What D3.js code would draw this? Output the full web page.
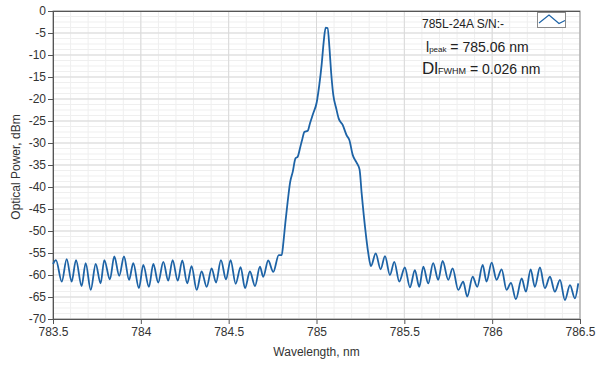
<!DOCTYPE html>
<html>
<head>
<meta charset="utf-8">
<script src="https://cdn.jsdelivr.net/npm/d3@7"></script>
<style>
  body { margin: 0; background: #fff; }
  svg { font-family: "Liberation Sans", "DejaVu Sans", sans-serif; }
  .grid-minor line { stroke: #efefef; }
  .grid-major line { stroke: #d9d9d9; }
  .axis path, .axis line { stroke: #555; }
  .axis text { fill: #333; font-size: 12px; }
  .spectrum { fill: none; stroke: #1d63a6; stroke-width: 1.8; }
</style>
</head>
<body>
<div id="chart"></div>
<script>
// spectrum: local maxima / minima of the ripple plus the laser line
var wavelength = [
  783.500, 783.517, 783.550, 783.578, 783.606, 783.631, 783.663, 783.686, 783.715, 783.743,
  783.771, 783.792, 783.824, 783.849, 783.877, 783.904, 783.933, 783.957, 783.989, 784.014,
  784.046, 784.071, 784.099, 784.128, 784.156, 784.181, 784.210, 784.236, 784.264, 784.289,
  784.318, 784.346, 784.375, 784.403, 784.428, 784.456, 784.485, 784.511, 784.540, 784.568,
  784.593, 784.621, 784.650, 784.678, 784.697, 784.725, 784.754, 784.785, 784.802, 784.812,
  784.823, 784.836, 784.850, 784.865, 784.880, 784.893, 784.906, 784.918, 784.931, 784.950,
  784.963, 784.982, 785.001, 785.016, 785.029, 785.041, 785.052, 785.063, 785.074, 785.083,
  785.096, 785.112, 785.126, 785.149, 785.172, 785.187, 785.206, 785.226, 785.245, 785.257,
  785.276, 785.295, 785.310, 785.337, 785.365, 785.390, 785.418, 785.443, 785.471, 785.503,
  785.532, 785.560, 785.585, 785.608, 785.636, 785.664, 785.693, 785.718, 785.750, 785.775,
  785.807, 785.835, 785.858, 785.889, 785.915, 785.946, 785.968, 785.997, 786.025, 786.054,
  786.082, 786.107, 786.135, 786.168, 786.192, 786.219, 786.243, 786.272, 786.300, 786.329,
  786.357, 786.386, 786.414, 786.443, 786.471, 786.490
];
var power = [
  -57.5, -56.6, -61.5, -56.4, -61.5, -56.6, -62.5, -57.3, -63.4, -57.5,
  -61.9, -56.6, -61.0, -55.8, -60.2, -55.8, -61.1, -57.3, -63.0, -57.7,
  -62.7, -57.5, -61.7, -57.0, -61.3, -56.6, -61.3, -56.7, -61.9, -58.0,
  -63.4, -59.2, -62.7, -58.5, -61.7, -56.6, -61.0, -56.6, -62.0, -58.2,
  -63.0, -59.2, -62.5, -58.1, -60.4, -56.7, -59.3, -55.5, -55.5, -52.4,
  -48.0, -43.3, -38.9, -36.5, -33.5, -33.1, -31.2, -29.3, -27.5, -27.2,
  -25.5, -23.2, -20.8, -16.8, -12.3, -7.0, -3.8, -3.9, -8.5, -13.8,
  -19.2, -22.1, -24.4, -25.9, -28.3, -29.3, -32.7, -34.3, -36.0, -41.4,
  -49.0, -55.1, -58.0, -55.1, -58.7, -55.7, -60.0, -57.0, -61.5, -58.3,
  -62.8, -58.9, -62.7, -58.1, -61.9, -57.3, -61.1, -56.8, -61.1, -58.5,
  -63.4, -61.5, -64.9, -60.4, -62.7, -57.7, -61.5, -57.2, -61.1, -58.7,
  -63.4, -61.8, -65.5, -60.8, -63.8, -58.7, -62.7, -58.3, -63.0, -60.4,
  -63.8, -61.1, -65.7, -62.3, -65.3, -61.9
];

var xTicks = [783.5, 784, 784.5, 785, 785.5, 786, 786.5];
var yTicks = [0, -5, -10, -15, -20, -25, -30, -35, -40, -45, -50, -55, -60, -65, -70];

var width = 599,
    height = 370,
    margin = {top: 11, right: 19, bottom: 51, left: 53};

var x = d3.scaleLinear()
    .domain([783.5, 786.5])
    .range([margin.left, width - margin.right]);

var y = d3.scaleLinear()
    .domain([-70, 0])
    .range([height - margin.bottom, margin.top]);

var svg = d3.select("#chart").append("svg")
    .attr("width", width)
    .attr("height", height);

// minor grid
svg.append("g")
    .attr("class", "grid-minor")
    .selectAll("line.v")
    .data(d3.range(783.5, 786.5001, 0.1))
    .enter().append("line")
    .attr("x1", function(d) { return x(d); })
    .attr("x2", function(d) { return x(d); })
    .attr("y1", y(0))
    .attr("y2", y(-70));

svg.select(".grid-minor")
    .selectAll("line.h")
    .data(d3.range(-70, 0.001, 1.25))
    .enter().append("line")
    .attr("class", "h")
    .attr("x1", x(783.5))
    .attr("x2", x(786.5))
    .attr("y1", function(d) { return y(d); })
    .attr("y2", function(d) { return y(d); });

// major grid
var major = svg.append("g").attr("class", "grid-major");
major.selectAll("line.v")
    .data(xTicks)
    .enter().append("line")
    .attr("class", "v")
    .attr("x1", function(d) { return x(d); })
    .attr("x2", function(d) { return x(d); })
    .attr("y1", y(0))
    .attr("y2", y(-70));
major.selectAll("line.h")
    .data(yTicks)
    .enter().append("line")
    .attr("class", "h")
    .attr("x1", x(783.5))
    .attr("x2", x(786.5))
    .attr("y1", function(d) { return y(d); })
    .attr("y2", function(d) { return y(d); });

// frame
svg.append("rect")
    .attr("x", x(783.5))
    .attr("y", y(0))
    .attr("width", x(786.5) - x(783.5))
    .attr("height", y(-70) - y(0))
    .attr("fill", "none")
    .attr("stroke", "#9a9a9a");
svg.append("line")
    .attr("x1", x(783.5)).attr("x2", x(786.5))
    .attr("y1", y(0) + 0.5).attr("y2", y(0) + 0.5)
    .attr("stroke", "#555");

// axes
svg.append("g")
    .attr("class", "axis")
    .attr("transform", "translate(0," + y(-70) + ")")
    .call(d3.axisBottom(x).tickValues(xTicks).tickSize(5).tickPadding(3)
      .tickFormat(function(d) { return String(d); }));

svg.append("g")
    .attr("class", "axis")
    .attr("transform", "translate(" + x(783.5) + ",0)")
    .call(d3.axisLeft(y).tickValues(yTicks).tickSize(5).tickPadding(2)
      .tickFormat(function(d) { return String(d); }));

svg.selectAll(".axis .domain").attr("stroke", "#555");

// labels
svg.append("text")
    .attr("x", (x(783.5) + x(786.5)) / 2)
    .attr("y", 356)
    .attr("text-anchor", "middle")
    .attr("font-size", 12)
    .attr("fill", "#333")
    .text("Wavelength, nm");

svg.append("text")
    .attr("transform", "translate(20," + (y(-35) + 2) + ") rotate(-90)")
    .attr("text-anchor", "middle")
    .attr("font-size", 12)
    .attr("fill", "#333")
    .text("Optical Power, dBm");

// spectrum
var line = d3.line()
    .x(function(d, i) { return x(wavelength[i]); })
    .y(function(d) { return y(d); })
    .curve(d3.curveMonotoneX);

svg.append("path")
    .datum(power)
    .attr("class", "spectrum")
    .attr("d", line);

// legend
svg.append("text")
    .attr("x", 422)
    .attr("y", 28)
    .attr("font-size", 12)
    .attr("fill", "#222")
    .text("785L-24A S/N:-");

svg.append("rect")
    .attr("x", 537.5).attr("y", 12.5)
    .attr("width", 28).attr("height", 15)
    .attr("fill", "#fff")
    .attr("stroke", "#8a8a8a");
svg.append("polyline")
    .attr("points", "539,23 549,15 559,23.5 565,20.5")
    .attr("fill", "none")
    .attr("stroke", "#1d63a6")
    .attr("stroke-width", 1.2);

var t1 = svg.append("text")
    .attr("x", 426)
    .attr("y", 52)
    .attr("font-size", 14)
    .attr("fill", "#222");
t1.append("tspan").text("l");
t1.append("tspan").attr("font-size", 8).text("peak");
t1.append("tspan").text(" = 785.06 nm");

var t2 = svg.append("text")
    .attr("x", 422)
    .attr("y", 74)
    .attr("font-size", 14)
    .attr("fill", "#222");
t2.append("tspan").attr("font-size", 17).text("Dl");
t2.append("tspan").attr("font-size", 9).text("FWHM");
t2.append("tspan").text(" = 0.026 nm");
</script>
</body>
</html>
